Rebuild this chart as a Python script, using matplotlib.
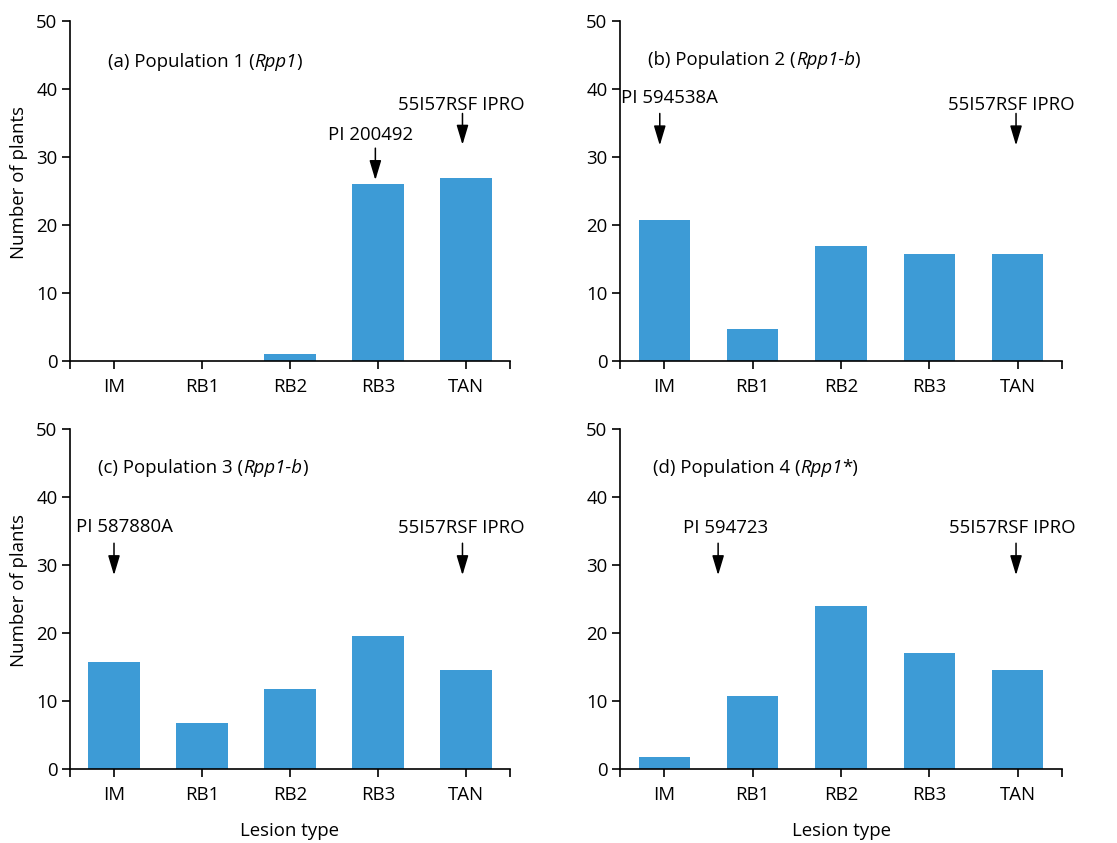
import matplotlib
matplotlib.use("Agg")
import matplotlib.pyplot as plt

FS = 13.4
plt.rcParams['font.family'] = ['Open Sans', 'DejaVu Sans']
plt.rcParams['font.size'] = FS

categories = ["IM", "RB1", "RB2", "RB3", "TAN"]
pop1 = [0, 0, 1.0, 26.0, 26.9]
pop2 = [20.7, 4.7, 16.9, 15.7, 15.7]
pop3 = [15.8, 6.7, 11.8, 19.6, 14.6]
pop4 = [1.8, 10.8, 24.0, 17.0, 14.6]

titles = [("(a) Population 1 (", "Rpp1", ")"),
          ("(b) Population 2 (", "Rpp1-b", ")"),
          ("(c) Population 3 (", "Rpp1-b", ")"),
          ("(d) Population 4 (", "Rpp1", "*)")]
title_x = [-0.07, -0.18, -0.18, -0.13]
title_y = [44.0, 44.2, 44.3, 44.3]

# annotations: (label, label_x, label_y, arrow_x, arrow_from_y, arrow_to_y)
annots = [
    [("PI 200492", 2.92, 33.2, 2.97, 31.3, 26.6),
     ("55I57RSF IPRO", 3.95, 37.6, 3.96, 36.4, 31.8)],
    [("PI 594538A", 0.06, 38.7, -0.05, 36.4, 31.7),
     ("55I57RSF IPRO", 3.93, 37.6, 3.98, 36.4, 31.7)],
    [("PI 587880A", 0.12, 35.6, 0.0, 33.2, 28.5),
     ("55I57RSF IPRO", 3.95, 35.4, 3.96, 33.2, 28.5)],
    [("PI 594723", 0.69, 35.4, 0.61, 33.2, 28.5),
     ("55I57RSF IPRO", 3.94, 35.4, 3.98, 33.2, 28.5)],
]

data = [pop1, pop2, pop3, pop4]
bar_color = "#3d9bd6"

fig = plt.figure(figsize=(11.17, 8.43), dpi=100)
W, H = 1117, 843
boxes = [(70, 21, 510, 361), (620, 21, 1062, 361),
         (70, 429, 510, 769), (620, 429, 1062, 769)]

for i, (vals, box) in enumerate(zip(data, boxes)):
    l, t, r, b = box
    ax = fig.add_axes([l / W, (H - b) / H, (r - l) / W, (b - t) / H])
    x = list(range(len(categories)))
    ax.bar(x, vals, width=0.58, color=bar_color, zorder=2)
    ax.set_xlim(-0.5, 4.5)
    ax.set_ylim(0, 50)
    ax.set_yticks([0, 10, 20, 30, 40, 50])
    ax.set_xticks([-0.5] + x + [4.5])
    ax.set_xticklabels([""] + categories + [""])
    for s in ["top", "right"]:
        ax.spines[s].set_visible(False)
    for s in ["left", "bottom"]:
        ax.spines[s].set_linewidth(1.2)
        ax.spines[s].set_zorder(3)
    ax.tick_params(axis='both', direction='out', length=6, width=1.2,
                   labelsize=FS, colors='black')
    ax.tick_params(axis='x', pad=6)
    ax.tick_params(axis='y', pad=3)
    if i % 2 == 0:
        ax.set_ylabel("Number of plants", fontsize=FS)
        ax.yaxis.set_label_coords(-0.095, 0.526)
    if i >= 2:
        ax.set_xlabel("Lesion type", fontsize=FS)
        ax.xaxis.set_label_coords(0.5, -0.157)

    pre, it, post = titles[i]
    t1 = ax.text(title_x[i], title_y[i], pre, fontsize=FS, va='center', ha='left')
    t2 = ax.annotate(it, xy=(1, 0), xycoords=t1, va='bottom', ha='left',
                     fontsize=FS, style='italic')
    ax.annotate(post, xy=(1, 0), xycoords=t2, va='bottom', ha='left', fontsize=FS)

    for (lab, lx, ly, axx, ay0, ay1) in annots[i]:
        ax.text(lx, ly, lab, fontsize=FS, ha='center', va='center', clip_on=False)
        ax.annotate("", xy=(axx, ay1), xytext=(axx, ay0),
                    arrowprops=dict(arrowstyle='-|>,head_length=1.2,head_width=0.36',
                                    mutation_scale=10, color='black', lw=1.1,
                                    shrinkA=0, shrinkB=0))

fig.savefig("out.png", dpi=100)
